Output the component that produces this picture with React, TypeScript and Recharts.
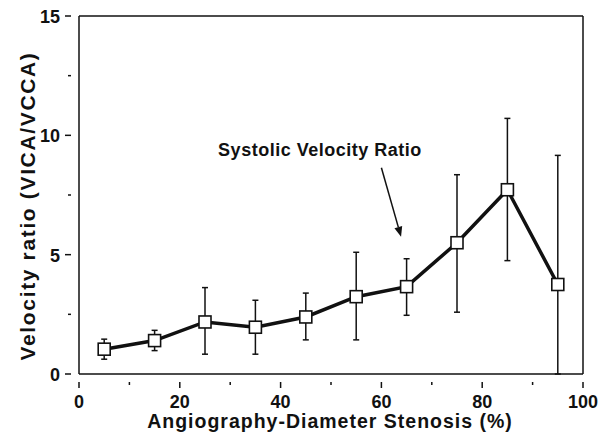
import React from "react"
import {
  ComposedChart,
  Line,
  XAxis,
  YAxis,
  ErrorBar,
  ReferenceLine,
  ReferenceDot,
} from "recharts"

const stenosis = [5, 15, 25, 35, 45, 55, 65, 75, 85, 95]
const ratio = [1.04, 1.4, 2.18, 1.96, 2.39, 3.24, 3.66, 5.5, 7.72, 3.75]
const errLow = [0.62, 0.98, 0.83, 0.83, 1.43, 1.43, 2.46, 2.59, 4.75, 0]
const errHigh = [1.46, 1.83, 3.62, 3.09, 3.39, 5.1, 4.83, 8.35, 10.71, 9.16]

const xTicks = [0, 10, 20, 30, 40, 50, 60, 70, 80, 90, 100]
const yTicks = [0, 2.5, 5, 7.5, 10, 12.5, 15]

const data = stenosis.map((s, i) => ({
  x: s,
  y: ratio[i],
  err: [ratio[i] - errLow[i], errHigh[i] - ratio[i]],
}))

const FONT = "'Liberation Sans', Arial, sans-serif"

const XTick = (props: any) => {
  const { x, y, payload } = props
  const major = payload.value % 20 === 0
  return (
    <g>
      <line x1={x} x2={x} y1={y} y2={y + (major ? 6 : 3)} stroke="#111" strokeWidth={1.5} />
      {major && (
        <text x={x} y={y + 25.5} textAnchor="middle" fontFamily={FONT} fontWeight="bold" fontSize={18} fill="#111">
          {payload.value}
        </text>
      )}
    </g>
  )
}

const YTick = (props: any) => {
  const { x, y, payload } = props
  const major = payload.value % 5 === 0
  return (
    <g>
      <line x1={x} x2={x - (major ? 6 : 3)} y1={y} y2={y} stroke="#111" strokeWidth={1.5} />
      {major && (
        <text x={x - 11} y={y + 7} textAnchor="end" fontFamily={FONT} fontWeight="bold" fontSize={18} fill="#111">
          {payload.value}
        </text>
      )}
    </g>
  )
}

const XTitle = (props: any) => {
  const { viewBox } = props
  return (
    <text x={viewBox.x + viewBox.width / 2 - 1} y={428} textAnchor="middle" fontFamily={FONT} fontWeight="bold" fontSize={19.5} letterSpacing={1} fill="#111">
      Angiography-Diameter Stenosis (%)
    </text>
  )
}

const YTitle = (props: any) => {
  const { viewBox } = props
  const cy = viewBox.y + viewBox.height / 2 + 11
  return (
    <text x={35} y={cy} transform={`rotate(-90, 35, ${cy})`} textAnchor="middle" fontFamily={FONT} fontWeight="bold" fontSize={21} letterSpacing={1.65} fill="#111">
      Velocity ratio (VICA/VCCA)
    </text>
  )
}

const SquareDot = (props: any) => {
  const { cx, cy } = props
  if (cx == null || cy == null) return null
  return <rect x={cx - 6} y={cy - 6} width={12} height={12} fill="#fff" stroke="#111" strokeWidth={1.6} />
}

const Arrow = (props: any) => {
  const { x1, y1, x2, y2 } = props
  const ang = Math.atan2(y2 - y1, x2 - x1)
  const len = 10
  const w = 4
  const bx = x2 - len * Math.cos(ang)
  const by = y2 - len * Math.sin(ang)
  const px = -Math.sin(ang) * w
  const py = Math.cos(ang) * w
  return (
    <g>
      <line x1={x1} y1={y1} x2={bx} y2={by} stroke="#111" strokeWidth={1.5} />
      <polygon points={`${x2},${y2} ${bx + px},${by + py} ${bx - px},${by - py}`} fill="#111" />
    </g>
  )
}

export default function App() {
  return (
    <div style={{ position: "absolute", left: 0, top: 0, background: "#fff" }}>
      <ComposedChart width={610} height={433} data={data} margin={{ top: 16, right: 27, left: 0, bottom: 0 }}>
        <XAxis
          dataKey="x"
          type="number"
          domain={[0, 100]}
          ticks={xTicks}
          interval={0}
          height={59}
          tickLine={false}
          axisLine={{ stroke: "#111", strokeWidth: 1.5 }}
          tick={<XTick />}
          label={<XTitle />}
        />
        <YAxis
          type="number"
          domain={[0, 15]}
          ticks={yTicks}
          interval={0}
          width={79}
          tickLine={false}
          axisLine={{ stroke: "#111", strokeWidth: 1.5 }}
          tick={<YTick />}
          label={<YTitle />}
        />
        <ReferenceLine y={15} stroke="#111" strokeWidth={1.5} />
        <ReferenceLine x={100} stroke="#111" strokeWidth={1.5} />
        <ReferenceLine segment={[{ x: 60, y: 8.64 }, { x: 63.9, y: 5.75 }]} shape={<Arrow />} ifOverflow="visible" />
        <ReferenceDot
          x={47.8}
          y={9.4}
          r={0}
          stroke="none"
          fill="none"
          label={{
            value: "Systolic Velocity Ratio",
            position: "center",
            style: { fontFamily: FONT, fontWeight: "bold", fontSize: 18, letterSpacing: 0.5, fill: "#111" },
          }}
        />
        <Line
          dataKey="y"
          stroke="#111"
          strokeWidth={3.5}
          dot={<SquareDot />}
          isAnimationActive={false}
        >
          <ErrorBar dataKey="err" width={3} stroke="#111" strokeWidth={1.5} direction="y" />
        </Line>
      </ComposedChart>
    </div>
  )
}
